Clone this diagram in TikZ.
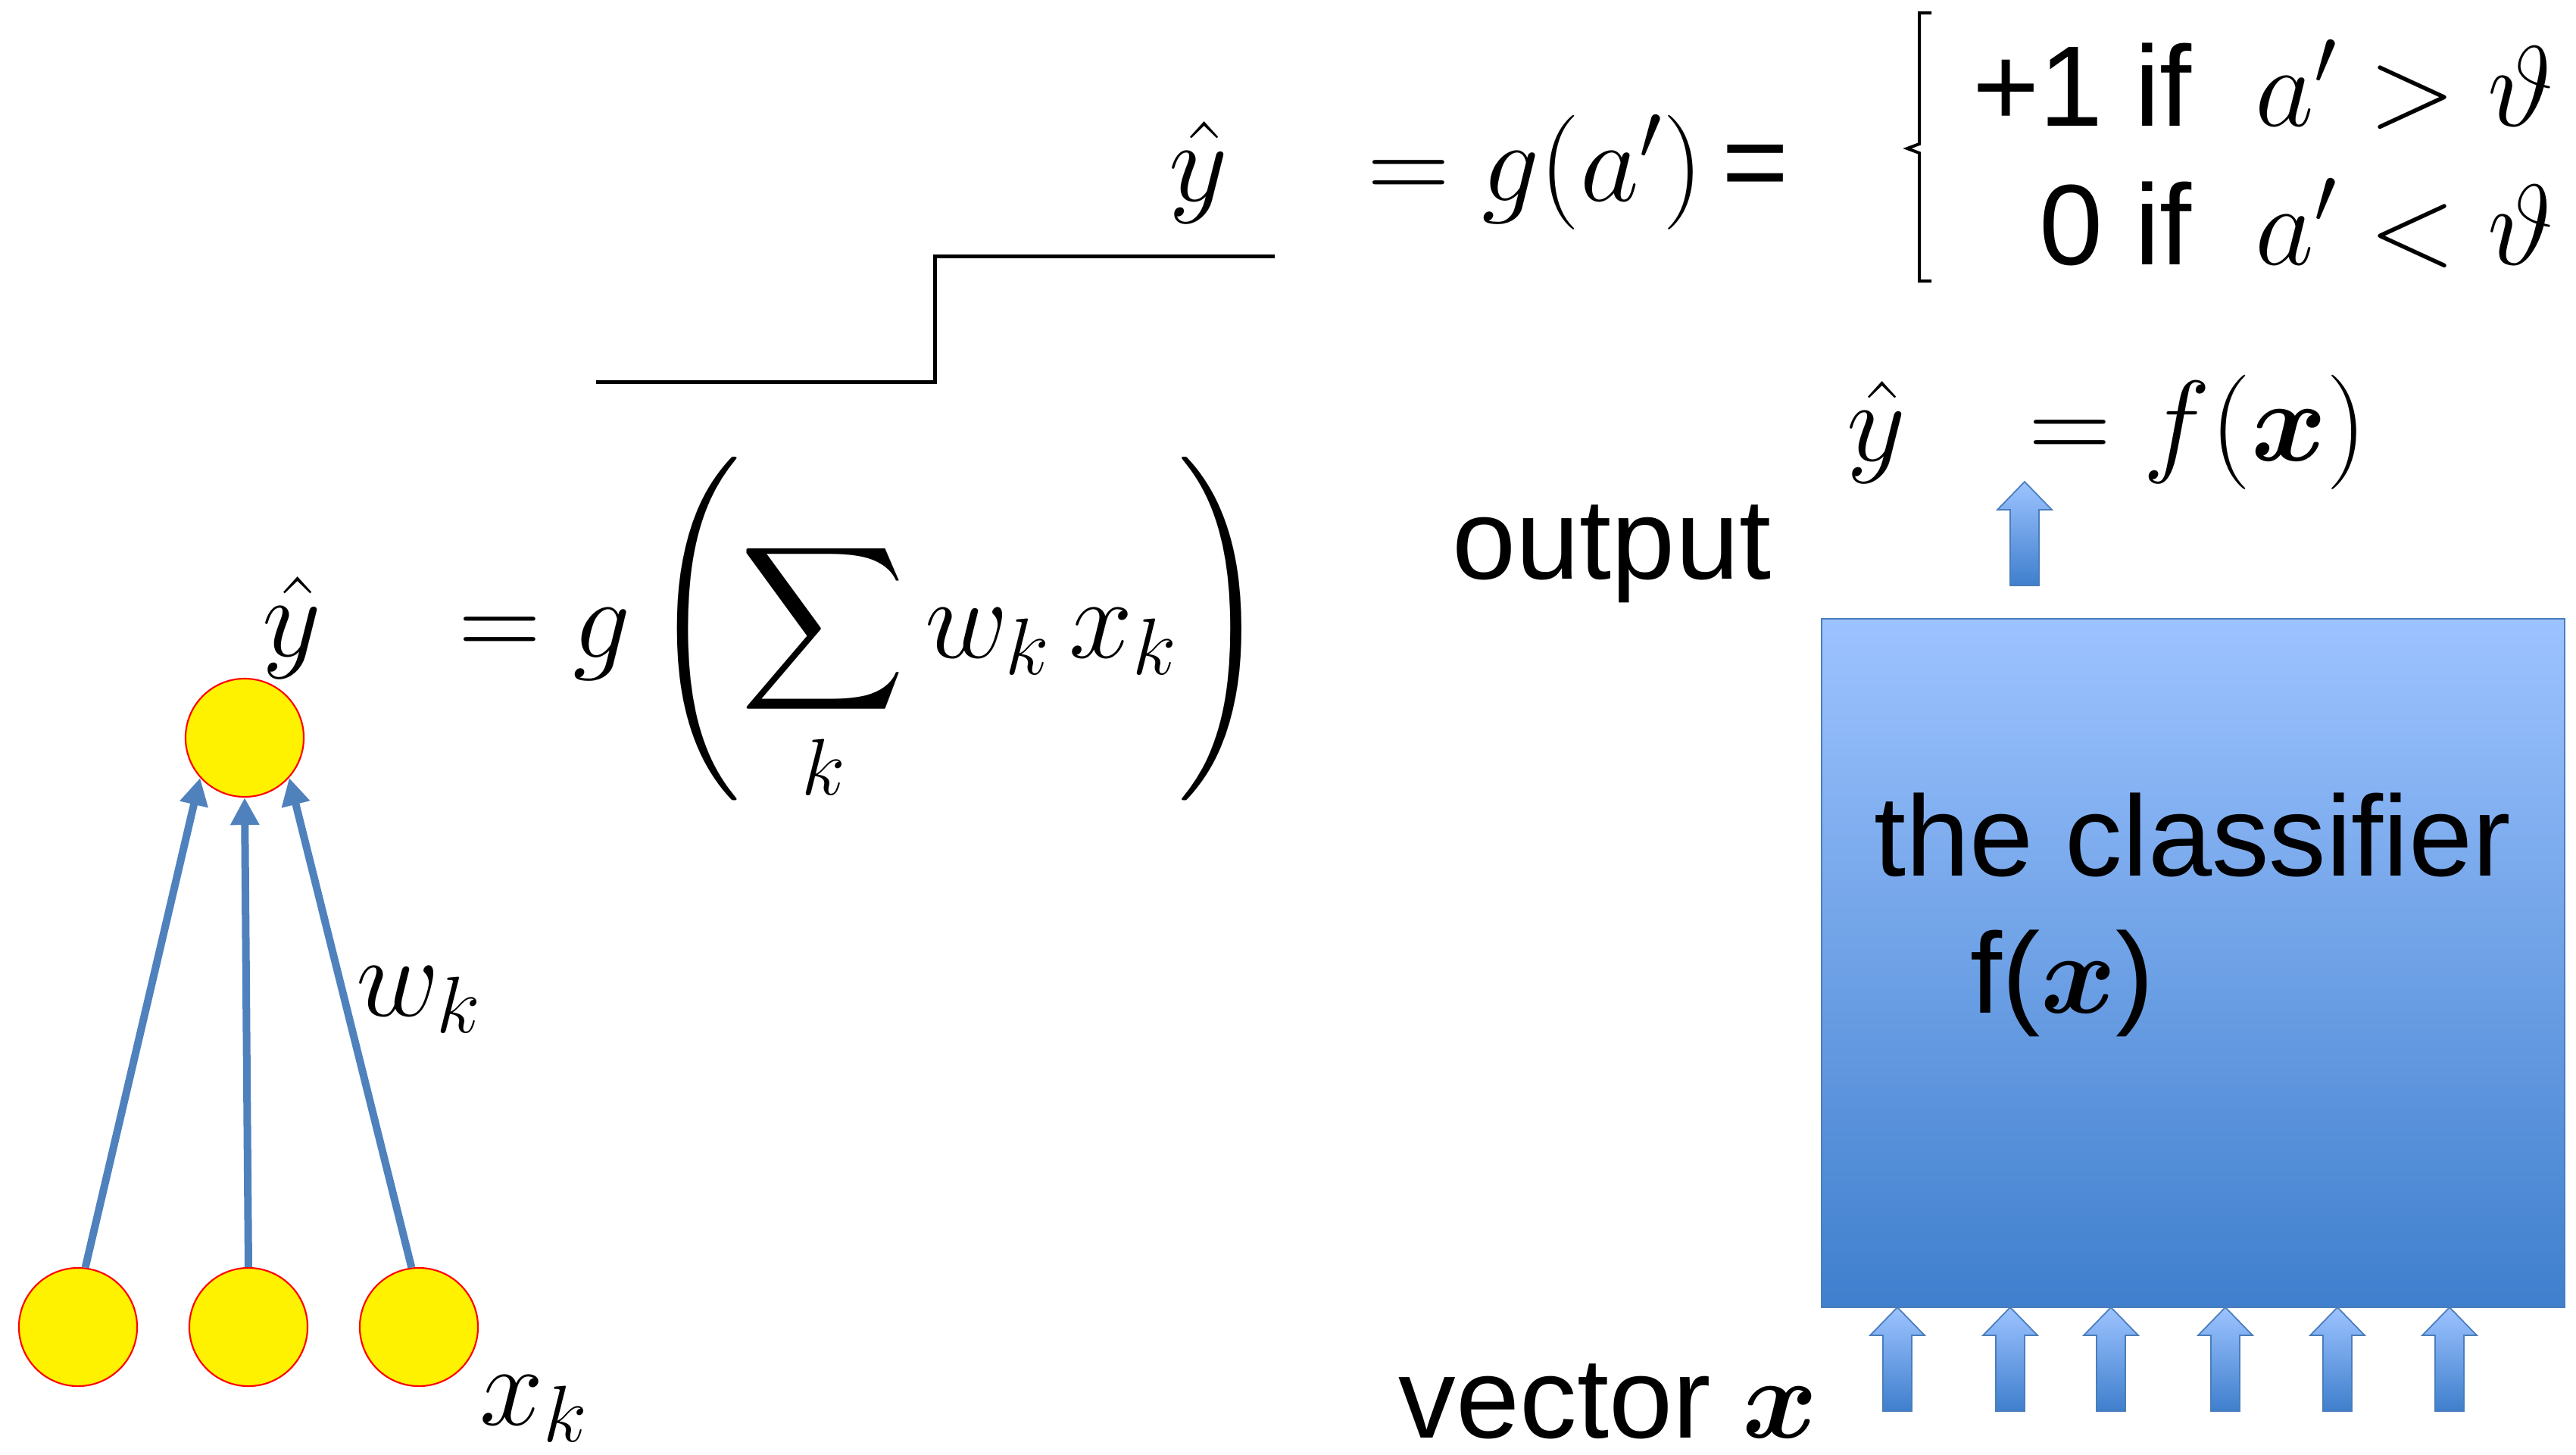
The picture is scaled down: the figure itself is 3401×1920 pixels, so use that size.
\RequirePackage{fix-cm}
\documentclass[tikz,border=0pt]{standalone}
\usepackage{amsmath,amssymb,bm}
\usepackage{graphicx}
\usepackage{fontspec}
\setmainfont{Liberation Sans}
\usepackage{tikz}
\usetikzlibrary{arrows.meta, positioning}
\definecolor{nnBlue}{HTML}{4F81BD}
\definecolor{clfTop}{HTML}{9DC3FF}
\definecolor{clfBot}{HTML}{3F7FCD}
\definecolor{clfEdge}{HTML}{4A7EBB}

\begin{document}
\begin{tikzpicture}[
  x=0.01cm, y=-0.01cm,
  every node/.style={font=\fontsize{43}{50}\selectfont, inner sep=0pt},
  unit/.style={circle, draw=red, fill=yellow, line width=0.6pt, minimum size=1.56cm},
  link/.style={-{Triangle[length=0.36cm, width=0.36cm]}, draw=nnBlue, line width=0.1cm},
  stepline/.style={line width=0.05cm},
  clf/.style={draw=clfEdge, line width=0.6pt, top color=clfTop, bottom color=clfBot,
              minimum width=9.81cm, minimum height=9.09cm},
  fatarrow/.pic={\draw[draw=clfEdge, line width=0.5pt, top color=clfTop, bottom color=clfBot]
    (-19,0) -- (-19,-100) -- (-36,-100) -- (0,-137) -- (36,-100) -- (19,-100) -- (19,0) -- cycle;}
]
  \useasboundingbox (0,0) rectangle (3401,1920);

  \node[unit] (x1) at (103,1752) {};
  \node[unit] (x2) at (328,1752) {};
  \node[unit] (x3) at (553,1752) {};
  \node[unit] (out) at (323,974) {};
  \draw[link] (x1.83) -- (out.222);
  \draw[link] (x2.north) -- (out.south);
  \draw[link] (x3.97) -- (out.318);
  \node (wk) at (553,1320) {$w_k$};
  \node (xk) at (705,1860) {$x_k$};

  \node[anchor=base] (yhat) at (385,866) {$\hat{y}$};
  \node[anchor=base west] (sumeq) at (605,868) {$= g\left(\displaystyle\sum_k w_k\,x_k\right)$};

  \draw[stepline] (787,504) -- (1234,504) -- (1234,338) -- (1683,338);
  \node[anchor=base] (ytop) at (1582,265) {$\hat{y}$};
  \node[anchor=base west] (geq) at (1805,265) {$= g(a')\,$=};
  \draw[line width=0.04cm] (2550,17) -- (2534,17) -- (2534,190) -- (2518,196)
    -- (2534,202) -- (2534,371) -- (2550,371);
  \node[anchor=base east] (case1) at (3373,166) {+1 if\hspace{0.55em}$a' > \vartheta$};
  \node[anchor=base east] (case2) at (3373,349) {0 if\hspace{0.55em}$a' < \vartheta$};

  \node[anchor=base] (yf) at (2477,608) {$\hat{y}$};
  \node[anchor=base west] (feq) at (2678,608) {$= f(\bm{x})$};
  \node[anchor=base west] (outlbl) at (1917,764) {output};
  \pic at (2673,773) {fatarrow};

  \node[clf] (box) at (2895.5,1271.5) {};
  \node[anchor=base west] (clfname) at (2474,1156) {the classifier};
  \node[anchor=base west] (clffx) at (2601,1337) {f($\bm{x}$)};
  \foreach \xx in {2505,2654,2787,2938,3086,3234}
    \pic at (\xx,1863) {fatarrow};
  \node[anchor=base west] (veclbl) at (1846,1898) {vector $\bm{x}$};
\end{tikzpicture}
\end{document}
